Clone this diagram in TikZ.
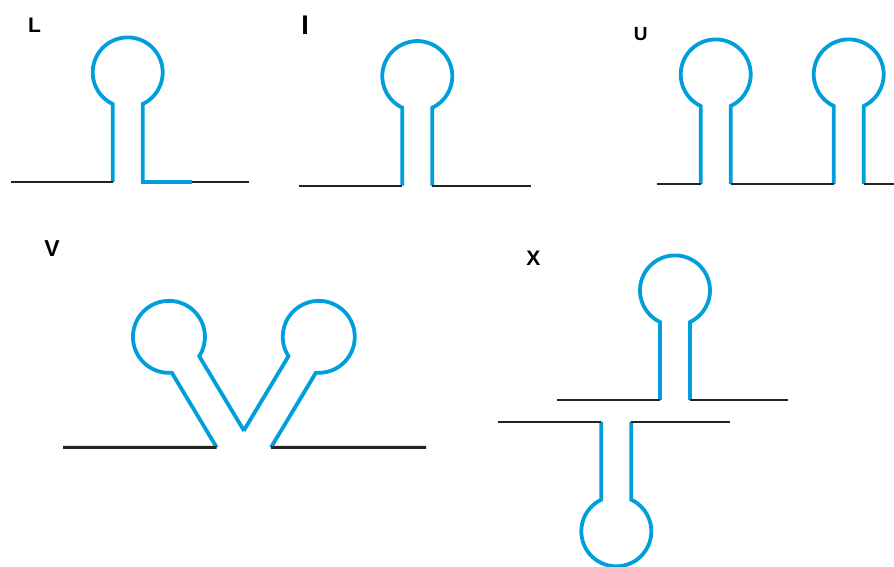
\documentclass[tikz,border=0pt]{standalone}
\usepackage{fontspec}
\setmainfont{Liberation Sans}
\definecolor{rnablue}{RGB}{0,158,219}
\definecolor{strand}{RGB}{35,35,35}

\begin{document}
\begin{tikzpicture}[
    x=1pt, y=-1pt,
    rna/.style={draw=rnablue, line width=3.8pt},
    dna/.style={draw=strand, line width=2pt},
    tag/.style={anchor=base, inner sep=0pt},
    stem len/.store in=\stemlen, stem len=78,
    stem half/.store in=\stemhalf, stem half=15,
    loop rad/.store in=\looprad, loop rad=35,
    hairpin/.pic={
        \pgfmathsetmacro\loopang{acos(\stemhalf/\looprad)}
        \coordinate (-l) at (-\stemhalf,0);
        \coordinate (-r) at (\stemhalf,0);
        \draw[rna] (-l) -- (-\stemhalf,-\stemlen)
            arc[start angle=180-\loopang, end angle=360+\loopang, radius=\looprad]
            -- (-r);
    }
]
    \useasboundingbox (0,0) rectangle (894,566);
    \clip (0,0) rectangle (894,566);

    % L
    \node[tag, font=\fontsize{21}{21}\selectfont\bfseries] (labL) at (34.5,32.5) {L};
    \pic (lp) at (127.7,182) {hairpin};
    \draw[dna] (11,182) -- (lp-l);
    \draw[rna] ([xshift=-1.9pt]lp-r) -- (192,182);
    \draw[dna] (192,182) -- (249,182);

    % I
    \node[tag, font=\fontsize{27}{27}\selectfont\bfseries] (labI) at (305,34.3) {I};
    \pic (ip) at (417.3,185.7) {hairpin};
    \draw[dna] (299,185.7) -- (ip-l);
    \draw[dna] (ip-r) -- (531,185.7);

    % U
    \node[tag, font=\fontsize{19}{19}\selectfont\bfseries] (labU) at (640.7,40.3) {U};
    \pic (ua) at (715.7,184) {hairpin};
    \pic (ub) at (848.7,184) {hairpin};
    \draw[dna] (657,184) -- (ua-l);
    \draw[dna] (ua-r) -- (ub-l);
    \draw[dna] (ub-r) -- (894,184);

    % V
    \node[tag, font=\fontsize{23}{23}\selectfont\bfseries] (labV) at (52,256.7) {V};
    \pic[rotate=31, stem len=87, stem half=16, loop rad=36] (vl) at (230.35,439.06) {hairpin};
    \pic[rotate=-31, stem len=87, stem half=16, loop rad=36] (vr) at (257.35,439.06) {hairpin};
    \draw[dna, line width=3pt] (63,447.3) -- (vl-l);
    \draw[dna, line width=3pt] (vr-r) -- (426,447.3);

    % X
    \node[tag, font=\fontsize{21}{21}\selectfont\bfseries] (labX) at (533.3,265) {X};
    \pic (xa) at (675,400) {hairpin};
    \pic[rotate=180] (xb) at (616.3,421.7) {hairpin};
    \draw[dna, line width=1.7pt] (557,400) -- (xa-l);
    \draw[dna, line width=1.7pt] (xa-r) -- (788,400);
    \draw[dna, line width=1.7pt] (498,421.7) -- (xb-r);
    \draw[dna, line width=1.7pt] (xb-l) -- (730,421.7);
\end{tikzpicture}
\end{document}
